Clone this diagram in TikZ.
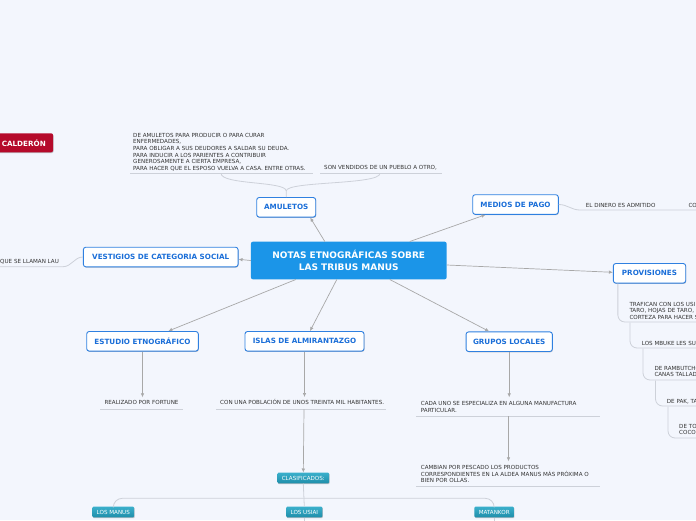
\documentclass[tikz,border=0pt]{standalone}
\usepackage{fontspec}
\setmainfont{DejaVu Sans}
\usetikzlibrary{arrows.meta,calc,shadows}
\definecolor{bgc}{HTML}{F3F6FD}
\definecolor{cblue}{HTML}{1B95E8}
\definecolor{bblue}{HTML}{2F80E0}
\definecolor{tblue}{HTML}{1A6ED8}
\definecolor{tgray}{HTML}{333333}
\definecolor{cgray}{HTML}{A8A8A8}
\definecolor{lgray}{HTML}{CDD1D9}
\definecolor{redc}{HTML}{B50A2B}
\definecolor{tealtop}{HTML}{3AAFCB}
\definecolor{tealbot}{HTML}{1F8EAA}
\begin{document}
\begin{tikzpicture}[x=1pt,y=-1pt,
  shd/.style={drop shadow={shadow xshift=0.5pt,shadow yshift=-0.8pt,opacity=0.22,fill=black}},
  central/.style={fill=cblue, text=white, font=\fontsize{9}{11.6}\selectfont\bfseries, align=center,
    minimum width=195.7pt, minimum height=37.6pt, rounded corners=2pt, inner sep=0pt},
  topic/.style={draw=bblue, line width=0.9pt, fill=white, text=tblue,
    font=\fontsize{7.2}{8}\selectfont\bfseries, minimum height=19.6pt, rounded corners=2.5pt, inner sep=0pt, shd},
  rednode/.style={fill=redc, text=white, font=\fontsize{7.2}{8}\selectfont\bfseries,
    minimum height=19pt, inner xsep=7.3pt, inner ysep=0pt, rounded corners=2pt, shd},
  leaf/.style={top color=tealtop, bottom color=tealbot, draw=none, text=white,
    font=\fontsize{5.6}{6.6}\selectfont, minimum height=10.6pt, inner xsep=4.3pt, inner ysep=0pt,
    rounded corners=1pt, shd},
  txt/.style={font=\fontsize{5.6}{6.6}\selectfont, text=tgray, align=left, inner sep=0pt, anchor=north west},
  uline/.style={draw=lgray, line width=0.8pt},
  branch/.style={draw=lgray, line width=0.8pt},
  conn/.style={draw=cgray, line width=0.7pt},
  arr/.style={conn, -{Latex[length=4pt,width=3.6pt]}}
]
\useasboundingbox (0,0) rectangle (696,520);
\clip (0,0) rectangle (696,520);
\fill[bgc] (0,0) rectangle (696,520);

% ---- main nodes
\node[central] (root) at (348.8,260.5) {NOTAS ETNOGRÁFICAS SOBRE\\LAS TRIBUS MANUS};
\node[topic, minimum width=59pt] (amu) at (286.2,207.3) {AMULETOS};
\node[topic, minimum width=85.6pt] (med) at (515.5,204.5) {MEDIOS DE PAGO};
\node[topic, minimum width=154.7pt] (ves) at (160.7,257) {VESTIGIOS DE CATEGORIA SOCIAL};
\node[topic, minimum width=72.4pt] (prov) at (649.5,273.3) {PROVISIONES};
\node[topic, minimum width=111.6pt] (est) at (142.5,341.3) {ESTUDIO ETNOGRÁFICO};
\node[topic, minimum width=119pt] (isl) at (304.5,341.3) {ISLAS DE ALMIRANTAZGO};
\node[topic, minimum width=86.3pt] (gru) at (509.2,341.7) {GRUPOS LOCALES};
\node[rednode, anchor=east] (cal) at (53.3,142.8) {CALDERÓN};

% ---- texts
\node[txt] (amuT) at (133,133) {DE AMULETOS PARA PRODUCIR O PARA CURAR\\ENFERMEDADES,\\PARA OBLIGAR A SUS DEUDORES A SALDAR SU DEUDA.\\PARA INDUCIR A LOS PARIENTES A CONTRIBUIR\\GENEROSAMENTE A CIERTA EMPRESA,\\PARA HACER QUE EL ESPOSO VUELVA A CASA. ENTRE OTRAS.};
\node[txt] (sonT) at (324,165.6) {SON VENDIDOS DE UN PUEBLO A OTRO,};
\node[txt] (dinT) at (585.7,203) {EL DINERO ES ADMITIDO};
\node[txt] (coT) at (688.3,203) {CO};
\node[txt] (lauT) at (0,259) {QUE SE LLAMAN LAU};
\node[txt] (p1T) at (629.3,302) {TRAFICAN CON LOS USI\\TARO, HOJAS DE TARO,\\CORTEZA PARA HACER S};
\node[txt] (p2T) at (641.7,340.7) {LOS MBUKE LES SU};
\node[txt] (p3T) at (654.3,365.7) {DE RAMBUTCHO\\CANAS TALLAD};
\node[txt] (p4T) at (666.7,399) {DE PAK, TA};
\node[txt] (p5T) at (679,424) {DE TO\\COCO};
\node[txt] (reaT) at (104.3,400.3) {REALIZADO POR FORTUNE};
\node[txt] (conT) at (220,399.2) {CON UNA POBLACIÓN DE UNOS TREINTA MIL HABITANTES.};
\node[txt] (cadaT) at (420.7,401.3) {CADA UNO SE ESPECIALIZA EN ALGUNA MANUFACTURA\\PARTICULAR.};
\node[txt] (camT) at (420.7,465.3) {CAMBIAN POR PESCADO LOS PRODUCTOS\\CORRESPONDIENTES EN LA ALDEA MANUS MÁS PRÓXIMA O\\BIEN POR OLLAS.};

% ---- teal nodes
\node[leaf] (clas) at (303.3,478) {CLASIFICADOS:};
\node[leaf] (man) at (113.3,512) {LOS MANUS};
\node[leaf] (usi) at (304.3,512) {LOS USIAI};
\node[leaf] (mat) at (494.2,512) {MATANKOR};

% ---- underlines
\draw[uline] (130,173.3) -- (313,173.3);
\draw[uline] (320,173.3) -- (441.7,173.3);
\draw[uline] (100,409.3) -- (182.7,409.3);
\draw[uline] (216,409.3) -- (386,409.3);
\coordinate (cadaU) at (508.5,416);
\draw[uline] (416,416) -- (600,416);
\draw[uline] (416,486) -- (600,486);
\coordinate (conU) at (304,409.3);

% ---- connectors from root
\draw[arr] ($(root.north)+(-24,0)$) -- ($(amu.south)+(24,0)$);
\draw[arr] ($(root.north)+(61,0)$) -- ($(med.south)+(-30,0)$);
\draw[arr] (root.west) -- ($(ves.east)+(0,2.3)$);
\draw[arr] ($(root.east)+(0,4.5)$) -- ($(prov.west)+(0,-1)$);
\draw[arr] ($(root.south)+(-53,0)$) -- ($(est.north)+(25.8,0)$);
\draw[arr] ($(root.south)+(-12,0)$) -- ($(isl.north)+(5.5,0)$);
\draw[arr] ($(root.south)+(41,0)$) -- ($(gru.north)+(-20,0)$);

% ---- amuletos branches
\coordinate (amuJ) at (286.2,191);
\coordinate (amuL) at (221,173.3);
\coordinate (amuR) at (380,173.3);
\draw[branch] (amu.north) -- (amuJ) .. controls (286.2,181) and (221,185) .. (amuL);
\draw[branch] (amuJ) .. controls (286.2,181) and (380,185) .. (amuR);

% ---- medios de pago branch
\coordinate (medA) at (580,210);
\coordinate (medB) at (700,210);
\draw[branch] (med.east) to[out=0,in=180] (medA) -- (medB);

% ---- vestigios branch
\coordinate (vesA) at (63,266.7);
\coordinate (vesB) at (-5,266.7);
\draw[branch] (ves.west) to[out=180,in=0] (vesA) -- (vesB);

% ---- provisiones cascade
\coordinate (p1a) at ($(prov.south west)+(5,0)$);
\coordinate (p1b) at (700,322);
\coordinate (p2a) at (630,322.5);
\coordinate (p2b) at (700,348);
\coordinate (p3a) at (643,348.5);
\coordinate (p3b) at (700,380);
\coordinate (p4a) at (655.5,380.5);
\coordinate (p4b) at (700,406);
\coordinate (p5a) at (668,406.5);
\coordinate (p5b) at (700,438);
\draw[branch, rounded corners=7pt] (p1a) |- (p1b);
\draw[branch, rounded corners=7pt] (p2a) |- (p2b);
\draw[branch, rounded corners=7pt] (p3a) |- (p3b);
\draw[branch, rounded corners=7pt] (p4a) |- (p4b);
\draw[branch, rounded corners=7pt] (p5a) |- (p5b);

% ---- vertical arrows
\draw[arr] (est.south) -- ($(est.south |- reaT.north)+(0,-3)$);
\draw[arr] (isl.south) -- ($(isl.south |- conT.north)+(0,-2.2)$);
\draw[arr] (gru.south) -- ($(gru.south |- cadaT.north)+(0,-4)$);
\draw[arr] (cadaU) -- ($(cadaU |- camT.north)+(0,-4)$);
\draw[arr] (conU) -- (clas.north);

% ---- clasificados split
\coordinate (split) at (303.6,498.3);
\draw[branch] (clas.south) -- (usi.north);
\draw[branch, rounded corners=9pt] (split) -| (man.north);
\draw[branch, rounded corners=9pt] (split) -| (mat.north);
\coordinate (usiB) at (304.3,526);
\coordinate (matB) at (494.2,526);
\draw[branch] (usi.south) -- (usiB);
\draw[branch] (mat.south) -- (matB);
\end{tikzpicture}
\end{document}
